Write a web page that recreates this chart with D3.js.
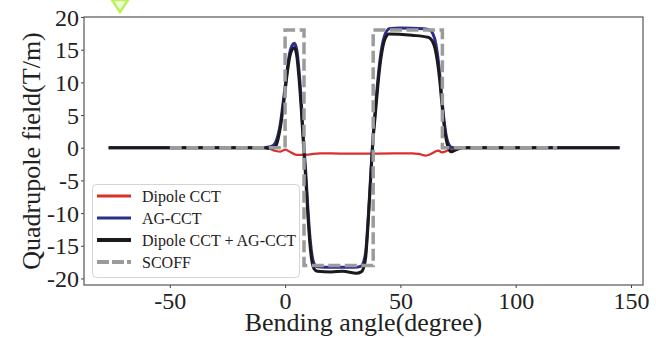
<!DOCTYPE html>
<html>
<head>
<meta charset="utf-8">
<script src="https://cdn.jsdelivr.net/npm/d3@7"></script>
<style>
  body { margin: 0; background: #fff; }
  svg { display: block; font-family: "Liberation Serif", "Times New Roman", serif; }
</style>
</head>
<body>
<div id="chart"></div>
<script>
// Dipole CCT quadrupole component (angle in degree, field in T/m)
const dipoleAngle = [-76.5, -10, -7, -5, -4, -2, 0, 2, 5, 10, 15, 25, 40, 55, 58, 61, 63, 65, 66.5, 68, 70, 72, 75, 145];
const dipoleField = [0, 0, -0.1, -0.4, -0.5, -0.6, -0.3, -0.6, -1.1, -1.05, -0.85, -0.9, -0.9, -0.85, -0.95, -1.2, -1.0, -0.6, -0.45, -0.7, -0.5, -0.2, 0, 0];

// AG-CCT
const agAngle = [-76.5, -10, -7, -5, -4, -3, -2, -1, 0, 1, 2, 3, 4, 5, 6, 7, 8, 9, 10, 11, 12, 13, 14, 20, 30, 33, 34, 35, 36, 37, 38, 39, 40, 41, 42, 43, 44, 45, 50, 60, 63, 64, 65, 66, 67, 68, 69, 70, 71, 72, 74, 145];
const agField = [0, 0, 0.1, 0.4, 0.9, 2.0, 3.8, 6.5, 9.3, 12.2, 14.5, 15.6, 16.0, 15.1, 12.0, 7.2, 1.2, -4.0, -10.0, -14.5, -17.1, -18.0, -18.2, -18.3, -18.3, -18.1, -17.5, -15.8, -11.0, -5.0, 1.0, 5.5, 9.5, 13.0, 15.5, 17.0, 17.8, 18.2, 18.3, 18.2, 18.0, 17.5, 16.5, 14.5, 11.5, 7.5, 4.0, 1.6, 0.5, 0.1, 0, 0];

// Dipole CCT + AG-CCT
const sumAngle = [-76.5, -10, -7, -5, -4, -3, -2, -1, 0, 1, 2, 3, 4, 5, 6, 7, 8, 9, 10, 11, 12, 13, 14, 20, 25, 31, 33, 34, 35, 36, 37, 38, 39, 40, 41, 42, 43, 44, 45, 55, 62, 63, 64, 65, 66, 67, 68, 69, 70, 71, 72, 73, 75, 77, 145];
const sumField = [0, 0, -0.1, 0, 0.3, 1.4, 3.2, 5.8, 8.6, 11.6, 13.9, 15.0, 15.3, 14.2, 10.8, 6.0, 0.2, -5.0, -11.0, -15.6, -18.0, -18.7, -18.9, -19.0, -18.9, -19.2, -19.0, -18.4, -16.6, -11.5, -5.5, 0.5, 4.6, 8.6, 12.2, 14.7, 16.3, 17.1, 17.4, 17.2, 16.9, 16.7, 16.2, 15.2, 13.3, 10.5, 6.7, 3.3, 1.0, -0.2, -0.6, -0.5, -0.2, 0, 0];

// SCOFF ideal step model
const scoffAngle = [-50, 0, 0, 8.2, 8.2, 38.2, 38.2, 68.2, 68.2, 118];
const scoffField = [0, 0, 18, 18, -18, -18, 18, 18, 0, 0];

const yTicks = [-20, -15, -10, -5, 0, 5, 10, 15, 20];
const xTicks = [-50, 0, 50, 100, 150];

const legendNames = ['Dipole CCT', 'AG-CCT', 'Dipole CCT + AG-CCT', 'SCOFF'];

const width = 656;
const height = 338;
const margin = { top: 17, right: 13, bottom: 53, left: 84 };

const svg = d3.select('#chart')
  .append('svg')
  .attr('width', width)
  .attr('height', height)
  .attr('viewBox', `0 0 ${width} ${height}`);

const x = d3.scaleLinear()
  .domain([-87.2, 155.2])
  .range([margin.left, width - margin.right]);

const y = d3.scaleLinear()
  .domain([-21, 20])
  .range([height - margin.bottom, margin.top]);

const toPoints = (xs, ys) => xs.map((v, i) => [v, ys[i]]);

// stray marker above the plot
svg.append('path')
  .attr('d', 'M112,0 L128,0 L120,12 Z')
  .attr('fill', '#eefcd8')
  .attr('stroke', '#b8f25a')
  .attr('stroke-width', 2.5);

const series = [
  { name: 'Dipole CCT', pts: toPoints(dipoleAngle, dipoleField), color: '#d9302b', w: 2.2 },
  { name: 'AG-CCT', pts: toPoints(agAngle, agField), color: '#2c2e8c', w: 3 },
  { name: 'Dipole CCT + AG-CCT', pts: toPoints(sumAngle, sumField), color: '#1a1a1a', w: 3 },
];

const line = d3.line()
  .x(d => x(d[0]))
  .y(d => y(d[1]))
  .curve(d3.curveMonotoneX);

const plot = svg.append('g');

series.forEach(s => {
  plot.append('path')
    .datum(s.pts)
    .attr('fill', 'none')
    .attr('stroke', s.color)
    .attr('stroke-width', s.w)
    .attr('stroke-linejoin', 'round')
    .attr('d', line);
});

// SCOFF drawn on top, straight segments
plot.append('path')
  .datum(toPoints(scoffAngle, scoffField))
  .attr('fill', 'none')
  .attr('stroke', '#9b9b9b')
  .attr('stroke-width', 3.5)
  .attr('stroke-dasharray', '12,4.5')
  .attr('d', d3.line().x(d => x(d[0])).y(d => y(d[1])));

// axes
const xAxis = svg.append('g')
  .attr('transform', `translate(0,${height - margin.bottom})`)
  .call(d3.axisBottom(x).tickValues(xTicks).tickSize(3).tickPadding(4).tickFormat(d3.format('d')));

const yAxis = svg.append('g')
  .attr('transform', `translate(${margin.left},0)`)
  .call(d3.axisLeft(y).tickValues(yTicks).tickSize(3).tickPadding(2).tickFormat(d3.format('d')));

[xAxis, yAxis].forEach(a => {
  a.select('.domain').remove();
  a.selectAll('.tick line').attr('stroke', '#444');
  a.selectAll('.tick text')
    .attr('fill', '#222')
    .style('font-family', '"Liberation Serif", serif')
    .style('font-size', '24px')
    .text(d => String(d).replace('\u2212', '-'));
});
xAxis.selectAll('.tick text').attr('dy', '0.71em');
yAxis.selectAll('.tick text').attr('dy', '0.34em');

// frame
svg.append('rect')
  .attr('x', margin.left)
  .attr('y', margin.top)
  .attr('width', width - margin.left - margin.right)
  .attr('height', height - margin.top - margin.bottom)
  .attr('fill', 'none')
  .attr('stroke', '#555')
  .attr('stroke-width', 1.2);

svg.append('text')
  .attr('x', (margin.left + width - margin.right) / 2)
  .attr('y', 331)
  .attr('text-anchor', 'middle')
  .attr('fill', '#222')
  .style('font-size', '26px')
  .text('Bending angle(degree)');

svg.append('text')
  .attr('transform', `translate(40,${(margin.top + height - margin.bottom) / 2}) rotate(-90)`)
  .attr('text-anchor', 'middle')
  .attr('fill', '#222')
  .style('font-size', '26px')
  .text('Quadrupole field(T/m)');

// legend
const legend = svg.append('g');
legend.append('rect')
  .attr('x', 92.5)
  .attr('y', 184.5)
  .attr('width', 207)
  .attr('height', 93)
  .attr('rx', 4)
  .attr('fill', 'rgba(255,255,255,0.85)')
  .attr('stroke', '#d4d4d4');

const legendStyle = [
  { color: '#d9302b', w: 2.8, dash: null },
  { color: '#2c2e8c', w: 2.8, dash: null },
  { color: '#1a1a1a', w: 3.8, dash: null },
  { color: '#9b9b9b', w: 3.8, dash: '12,3' },
];

legendNames.forEach((name, i) => {
  const cy = 196 + i * 22;
  legend.append('line')
    .attr('x1', 97).attr('x2', 131)
    .attr('y1', cy).attr('y2', cy)
    .attr('stroke', legendStyle[i].color)
    .attr('stroke-width', legendStyle[i].w)
    .attr('stroke-dasharray', legendStyle[i].dash);
  legend.append('text')
    .attr('x', 142)
    .attr('y', cy + 5.5)
    .attr('fill', '#222')
    .style('font-size', '16px')
    .text(name);
});
</script>
</body>
</html>
